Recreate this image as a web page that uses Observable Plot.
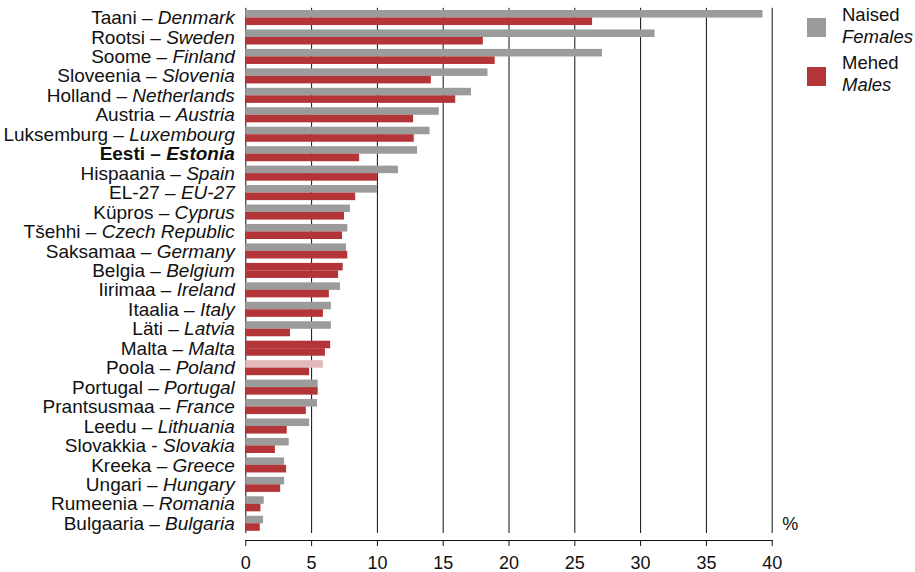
<!DOCTYPE html>
<html><head><meta charset="utf-8">
<script src="https://cdn.jsdelivr.net/npm/d3@7"></script>
<script src="https://cdn.jsdelivr.net/npm/@observablehq/plot@0.6"></script>
<style>
body{margin:0;background:#fff;font-family:"Liberation Sans",Arial,sans-serif;color:#000;}
#wrap{position:relative;width:915px;height:572px;overflow:hidden;}
.sw{position:absolute;width:19px;height:19px;}
.lt{position:absolute;font-size:18.5px;line-height:21.5px;white-space:nowrap;color:#111;}
.lt i{font-style:italic;}
</style></head><body><div id="wrap"></div>
<script>
const labels = [
  "Taani – Denmark","Rootsi – Sweden","Soome – Finland","Sloveenia – Slovenia",
  "Holland – Netherlands","Austria – Austria","Luksemburg – Luxembourg","Eesti – Estonia",
  "Hispaania – Spain","EL-27 – EU-27","Küpros – Cyprus","Tšehhi – Czech Republic",
  "Saksamaa – Germany","Belgia – Belgium","Iirimaa – Ireland","Itaalia – Italy",
  "Läti – Latvia","Malta – Malta","Poola – Poland","Portugal – Portugal",
  "Prantsusmaa – France","Leedu – Lithuania","Slovakkia - Slovakia","Kreeka – Greece",
  "Ungari – Hungary","Rumeenia – Romania","Bulgaaria – Bulgaria"
];
const females = [39.3,31.1,27.1,18.4,17.15,14.7,14.0,13.05,11.6,10.0,7.95,7.75,7.65,7.4,7.2,6.5,6.5,6.45,5.9,5.5,5.45,4.85,3.3,2.95,2.95,1.4,1.35];
const males   = [26.35,18.05,18.95,14.1,15.95,12.75,12.8,8.65,10.0,8.35,7.5,7.35,7.75,7.05,6.35,5.9,3.4,6.05,4.85,5.5,4.6,3.15,2.25,3.1,2.65,1.15,1.1];
const xTicks = [0,5,10,15,20,25,30,35,40];
const seriesNames = [["Naised","Females"],["Mehed","Males"]];
const highlight = "Eesti – Estonia";
const unit = "%";

const GRAY = "#9b9b9b", RED = "#b43538", PINK = "#e4b9bc";
const femaleFillOverride = {"Belgia – Belgium": RED, "Malta – Malta": RED, "Poola – Poland": PINK};

const fem = labels.map((c,i)=>({country:c, value:females[i]}));
const mal = labels.map((c,i)=>({country:c, value:males[i]}));
const lastLabel = labels[labels.length-1];

const chart = Plot.plot({
  width: 915, height: 572,
  marginLeft: 245.3, marginRight: 143.3, marginTop: 7.8, marginBottom: 32,
  style: {fontFamily: "'Liberation Sans', Arial, sans-serif", fontSize: "18px", background: "white", color: "#111", overflow: "visible"},
  x: {domain: [0,40], ticks: xTicks, tickSize: 6, tickPadding: 10, line: true, label: null},
  y: {domain: labels, axis: null, padding: 0, round: false, insetBottom: 7},
  marks: [
    Plot.ruleX(xTicks, {x: d=>d, stroke: "#111", strokeWidth: 1, insetBottom: 7}),
    Plot.barX(fem, {x: "value", y: "country", fill: d => femaleFillOverride[d.country] || GRAY, insetTop: 2.2, insetBottom: 9.7}),
    Plot.barX(mal, {x: "value", y: "country", fill: RED, insetTop: 9.7, insetBottom: 2.2}),
    Plot.text(labels, {x: 0, y: d=>d, text: d=>d, dx: -11, textAnchor: "end", fontSize: 19, fill: "#111"}),
    Plot.text([unit], {x: 40, y: () => lastLabel, text: d=>d, dx: 10, textAnchor: "start", fontSize: 18, fill: "#111"})
  ]
});

// style label halves: Estonian normal, English italic
chart.querySelectorAll("text").forEach(t => {
  const s = t.textContent;
  if (!labels.includes(s)) return;
  const m = s.match(/^(.*?)( [–-] )(.*)$/);
  if (!m) return;
  while (t.firstChild) t.removeChild(t.firstChild);
  const ns = "http://www.w3.org/2000/svg";
  const a = document.createElementNS(ns, "tspan"); a.textContent = m[1] + m[2];
  const b = document.createElementNS(ns, "tspan"); b.textContent = m[3]; b.setAttribute("font-style", "italic");
  t.appendChild(a); t.appendChild(b);
  if (s === highlight) t.setAttribute("font-weight", "bold");
});

const wrap = document.getElementById("wrap");
wrap.appendChild(chart);

const legendCols = [GRAY, RED];
const swTop = [18, 67], txtTop = [4, 52];
seriesNames.forEach((n,i)=>{
  const sw = document.createElement("div");
  sw.className = "sw"; sw.style.left = "807px"; sw.style.top = swTop[i] + "px"; sw.style.background = legendCols[i];
  wrap.appendChild(sw);
  const tx = document.createElement("div");
  tx.className = "lt"; tx.style.left = "842px"; tx.style.top = txtTop[i] + "px";
  tx.innerHTML = n[0] + "<br><i>" + n[1] + "</i>";
  wrap.appendChild(tx);
});
</script>
</body></html>
